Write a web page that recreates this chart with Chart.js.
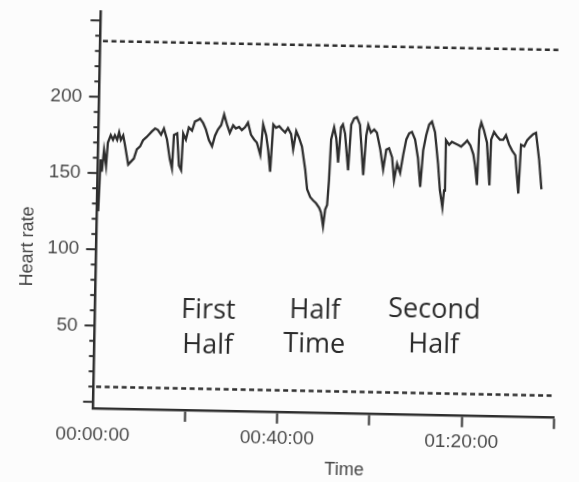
<!DOCTYPE html>
<html>
<head>
<meta charset="utf-8">
<script src="https://cdn.jsdelivr.net/npm/chart.js@4.4.1/dist/chart.umd.min.js"></script>
<style>
    body { margin: 0; background: #fcfcfc; }
    #hr { display: block; transform: rotate(1.12deg); }
</style>
</head>
<body>
<canvas id="hr" width="579" height="482"></canvas>
<script>
// match time in minutes and heart rate (bpm)
const minutes = [
    0.3, 0.6, 0.9, 1.3, 1.8, 2.1, 2.7, 3.2, 3.6, 4.1,
    4.5, 4.9, 5.4, 5.8, 6.6, 7.2, 7.8, 8.4, 9.1, 9.7,
    10.4, 11.0, 11.6, 12.3, 12.9, 13.6, 14.2, 14.9, 15.6, 16.1,
    16.4, 17.1, 17.6, 18.1, 18.4, 19.0, 19.6, 20.3, 20.9, 21.6,
    22.0, 22.7, 23.3, 24.0, 24.7, 25.3, 25.9, 26.6, 27.2, 27.9,
    28.5, 29.2, 29.8, 30.5, 31.1, 31.8, 32.4, 33.1, 33.8, 34.4,
    35.2, 35.7, 36.4, 36.9, 37.4, 37.9, 38.5, 39.2, 39.8, 40.5,
    41.1, 41.8, 42.3, 42.9, 43.5, 44.2, 45.0, 45.5, 46.2, 46.8,
    47.5, 48.2, 48.6, 49.1, 49.5, 49.9, 50.2, 50.5, 51.1, 51.6,
    52.1, 52.6, 53.0, 53.5, 54.3, 54.8, 55.4, 56.0, 56.7, 57.6,
    58.1, 58.5, 59.1, 59.8, 60.4, 61.2, 61.9, 62.5, 63.1, 63.8,
    64.3, 64.9, 65.6, 66.2, 66.8, 67.4, 68.0, 68.7, 69.4, 70.0,
    70.5, 71.1, 71.7, 72.3, 73.0, 73.8, 74.3, 74.9, 75.2, 75.4,
    76.1, 76.7, 77.4, 78.1, 78.7, 79.4, 80.0, 80.7, 81.4, 81.8,
    82.3, 82.6, 83.0, 83.6, 84.3, 85.0, 85.2, 85.8, 86.5, 87.1,
    87.8, 88.4, 89.1, 89.8, 90.5, 91.3, 91.7, 92.4, 93.0, 93.6,
    94.3, 94.9, 95.7, 96.3
];
const heartRate = [
    125, 159, 151, 165, 155, 170, 175, 172, 175, 172,
    177, 172, 175, 169, 156, 158, 160, 166, 168, 172,
    174, 176, 178, 180, 179, 176, 180, 173, 160, 154,
    176, 177, 156, 153, 177, 173, 181, 179, 185, 186,
    187, 184, 180, 173, 169, 176, 180, 183, 190, 183,
    178, 183, 181, 182, 180, 182, 185, 177, 174, 172,
    164, 184, 177, 167, 153, 184, 182, 183, 181, 179,
    182, 178, 168, 180, 176, 170, 155, 142, 137, 135,
    133, 130, 127, 118, 129, 132, 148, 175, 183, 176,
    160, 183, 185, 179, 155, 185, 189, 190, 185, 152,
    178, 185, 180, 182, 180, 169, 156, 169, 170, 164,
    149, 160, 154, 166, 176, 180, 181, 176, 164, 145,
    169, 179, 186, 188, 181, 160, 143, 132, 143, 176,
    173, 175, 174, 173, 172, 174, 176, 173, 167, 160,
    147, 183, 188, 183, 175, 147, 177, 182, 179, 177,
    177, 180, 174, 170, 167, 142, 174, 173, 177, 179,
    181, 182, 164, 145
];

// dotted reference lines (max HR and the floor)
const limitTimes = [0.6, 99.6];
const upperLimit = [236.5, 236.5];
const lowerLimit = [10, 10];

const timeTicks = ['00:00:00', '00:40:00', '01:20:00'];
const hrTicks = [50, 100, 150, 200];

const phaseLabels = [['First', 'Half'], ['Half', 'Time'], ['Second', 'Half']];
// where each label sits, in minutes / bpm of the first and second line
const phaseX = [24.6, 47.7, 73.6];
const phaseY = [[56.4, 33.5], [57.8, 34.9], [59.3, 36.4]];

const ink = '#2e2e2e';

const extras = {
    id: 'extras',
    afterDraw(chart) {
        const { ctx, scales: { x, y } } = chart;
        ctx.save();

        // y axis ticks, long every 50 and short every 10
        ctx.strokeStyle = ink;
        ctx.lineWidth = 2;
        for (let v = 0; v <= 250; v += 10) {
            const py = y.getPixelForValue(v);
            const len = v % 50 === 0 ? 10 : 5;
            ctx.beginPath();
            ctx.moveTo(y.right - len, py);
            ctx.lineTo(y.right, py);
            ctx.stroke();
        }

        // phase labels
        ctx.fillStyle = '#2a2a2a';
        ctx.font = '27px "Open Sans"';
        ctx.textAlign = 'center';
        ctx.textBaseline = 'alphabetic';
        phaseLabels.forEach((lines, i) => {
            lines.forEach((txt, j) => {
                ctx.fillText(txt, x.getPixelForValue(phaseX[i]), y.getPixelForValue(phaseY[i][j]));
            });
        });

        // axis titles
        ctx.fillStyle = '#444';
        ctx.font = '18px "Liberation Sans"';
        ctx.textBaseline = 'middle';
        ctx.fillText('Time', x.getPixelForValue(54.7), x.bottom - 13);

        ctx.translate(28, y.getPixelForValue(101));
        ctx.rotate(-Math.PI / 2);
        ctx.fillText('Heart rate', 0, 0);
        ctx.restore();
    }
};

new Chart(document.getElementById('hr'), {
    type: 'line',
    data: {
        datasets: [{
            label: 'Heart rate',
            data: minutes.map((m, i) => ({ x: m, y: heartRate[i] })),
            borderColor: ink,
            borderWidth: 2.3,
            pointRadius: 0,
            tension: 0
        }, {
            label: 'Upper',
            data: limitTimes.map((m, i) => ({ x: m, y: upperLimit[i] })),
            borderColor: ink,
            borderWidth: 2.5,
            borderDash: [5, 3.5],
            pointRadius: 0
        }, {
            label: 'Lower',
            data: limitTimes.map((m, i) => ({ x: m, y: lowerLimit[i] })),
            borderColor: ink,
            borderWidth: 2.5,
            borderDash: [5, 3.5],
            pointRadius: 0
        }]
    },
    options: {
        responsive: false,
        devicePixelRatio: 1,
        animation: false,
        layout: { padding: { top: 15.7, right: 21.6, left: 0, bottom: 0 } },
        plugins: {
            legend: { display: false },
            tooltip: { enabled: false }
        },
        scales: {
            x: {
                type: 'linear',
                min: 0,
                max: 100,
                afterFit: (scale) => { scale.height = 70.2; },
                border: { color: ink, width: 2.5 },
                grid: {
                    drawOnChartArea: false,
                    tickLength: 12,
                    tickWidth: 2,
                    tickColor: (c) => (c.tick && c.tick.value === 0 ? 'rgba(0,0,0,0)' : ink)
                },
                ticks: {
                    stepSize: 20,
                    autoSkip: false,
                    maxRotation: 0,
                    padding: 4,
                    color: '#4a4a4a',
                    font: { family: 'Liberation Sans', size: 19 },
                    callback: (v) => (v % 40 === 0 ? timeTicks[v / 40] : '')
                }
            },
            y: {
                min: -4,
                max: 255.6,
                afterFit: (scale) => {
                    scale.width = 96.3;
                    // labels are all well inside the axis, no extra room needed
                    scale.paddingTop = 0;
                    scale.paddingBottom = 0;
                },
                border: { color: ink, width: 2.5 },
                grid: { display: false, drawTicks: false },
                ticks: {
                    stepSize: 10,
                    autoSkip: false,
                    includeBounds: false,
                    padding: 17,
                    color: '#4a4a4a',
                    font: { family: 'Liberation Sans', size: 19 },
                    callback: (v) => (hrTicks.includes(v) ? v : '')
                }
            }
        }
    },
    plugins: [extras]
});
</script>
</body>
</html>
